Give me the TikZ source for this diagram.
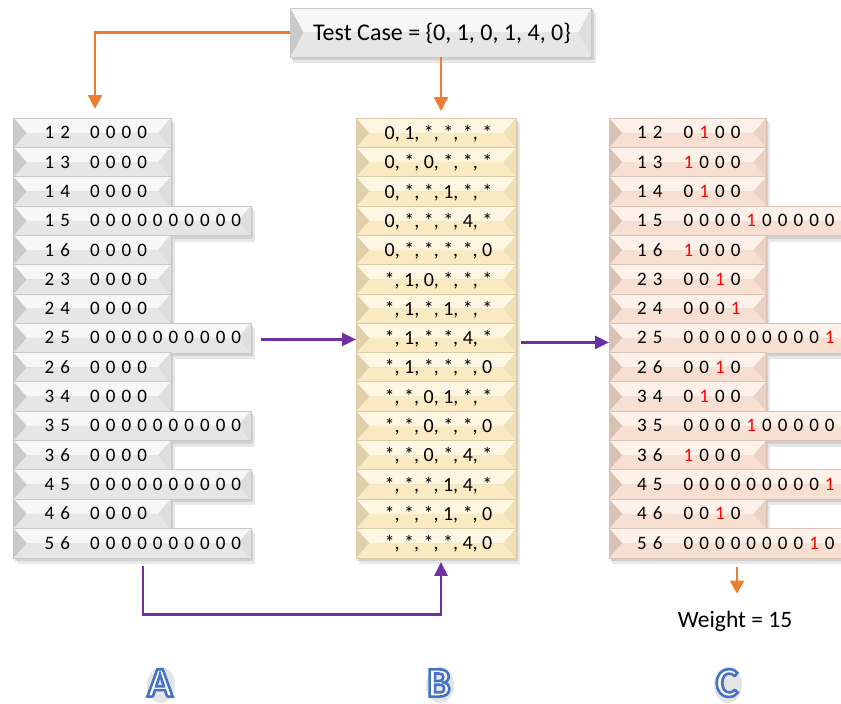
\documentclass[tikz,border=0pt]{standalone}
\usepackage{fontspec}
\setmainfont{Carlito}
\usetikzlibrary{calc,arrows.meta}

% palettes for the bevelled bars
\definecolor{grTop}{HTML}{F7F7F7}
\definecolor{grBot}{HTML}{E6E6E6}
\definecolor{grLeft}{HTML}{CACACA}
\definecolor{grRight}{HTML}{DEDEDE}
\definecolor{grEdge}{HTML}{C8C8C8}
\definecolor{crTop}{HTML}{FFF7E1}
\definecolor{crBot}{HTML}{FAEAC2}
\definecolor{crLeft}{HTML}{E0CFA8}
\definecolor{crRight}{HTML}{F0E0B8}
\definecolor{crEdge}{HTML}{DACBA6}
\definecolor{pcTop}{HTML}{FDF1EA}
\definecolor{pcBot}{HTML}{F7DFD1}
\definecolor{pcLeft}{HTML}{DAC1B2}
\definecolor{pcRight}{HTML}{EBD2C4}
\definecolor{pcEdge}{HTML}{D7C2B6}
\definecolor{shadeA}{HTML}{E8E8E8}
\definecolor{shadeB}{HTML}{D0D0D0}
\definecolor{orangeC}{HTML}{ED7D31}
\definecolor{purpleC}{HTML}{7030A0}
\definecolor{bitred}{HTML}{FF0000}
\definecolor{haloC}{HTML}{E4E4E4}

\def\bvw{13}
\def\pitch{15.7}

% outlined glyphs: fill with the current colour, stroke with the given one
\newcommand\outlined[3]{%
  \special{pdf:literal direct 2 Tr #1 w #2 RG}#3\special{pdf:literal direct 0 Tr}}

% bevelled face of a named rectangular node
\newcommand\drawbevel[2]{%
  \fill[shadeA] ($(#1.north west)+(3,5)$) rectangle ($(#1.south east)+(4,6)$);
  \fill[shadeB] ($(#1.north west)+(1.5,2.5)$) rectangle ($(#1.south east)+(2,3)$);
  \fill[#2Top] (#1.north west) -- (#1.north east) -- ($(#1.east)+(-\bvw,0)$) -- ($(#1.west)+(\bvw,0)$) -- cycle;
  \fill[#2Bot] (#1.south west) -- (#1.south east) -- ($(#1.east)+(-\bvw,0)$) -- ($(#1.west)+(\bvw,0)$) -- cycle;
  \fill[#2Left] (#1.north west) -- ($(#1.west)+(\bvw,0)$) -- (#1.south west) -- cycle;
  \fill[#2Right] (#1.north east) -- ($(#1.east)+(-\bvw,0)$) -- (#1.south east) -- cycle;
  \draw[#2Edge, line width=0.6pt] (#1.north west) rectangle (#1.south east);
}

% a row of evenly spaced digits; the letter x stands for a red 1
% #1 name prefix, #2 x of first digit centre, #3 baseline y, #4 digit list
\newcommand\digitrow[4]{%
  \foreach \d [count=\j from 0] in #4 {
    \node[digit] (#1\j) at ({#2+\pitch*\j},#3)
      {\if x\d \textcolor{bitred}{1}\else\d\fi};
  }%
}

\tikzset{
  rowbox/.style={rectangle, inner sep=0pt, minimum height=29.3pt, anchor=north west},
  digit/.style={inner sep=0pt, anchor=base, font=\fontsize{19}{21}\selectfont},
  stxt/.style={inner sep=0pt, anchor=base, font=\fontsize{20}{22}\selectfont},
  orarrow/.style={draw=orangeC, line width=2.4pt, -{Triangle[length=14pt,width=14pt]}},
  puarrow/.style={draw=purpleC, line width=2.4pt, -{Triangle[length=14pt,width=13pt]}},
  bigletter/.style={inner sep=2pt, font=\fontsize{42}{42}\selectfont\bfseries},
}

\begin{document}
\begin{tikzpicture}[x=1pt,y=-1pt]
\useasboundingbox (0,0) rectangle (841,704);
\clip (0,0) rectangle (841,704);

% column A
\foreach \lab/\bits/\bw [count=\i from 0] in {
  {1,2}/{0,0,0,0}/157, {1,3}/{0,0,0,0}/157, {1,4}/{0,0,0,0}/157,
  {1,5}/{0,0,0,0,0,0,0,0,0,0}/237,
  {1,6}/{0,0,0,0}/157, {2,3}/{0,0,0,0}/157, {2,4}/{0,0,0,0}/157,
  {2,5}/{0,0,0,0,0,0,0,0,0,0}/237,
  {2,6}/{0,0,0,0}/157, {3,4}/{0,0,0,0}/157,
  {3,5}/{0,0,0,0,0,0,0,0,0,0}/237, {3,6}/{0,0,0,0}/157,
  {4,5}/{0,0,0,0,0,0,0,0,0,0}/237, {4,6}/{0,0,0,0}/157,
  {5,6}/{0,0,0,0,0,0,0,0,0,0}/237}{
  \node[rowbox, minimum width=\bw pt] (a\i) at (13.5,{118+29.3*\i}) {};
  \drawbevel{a\i}{gr}
  \digitrow{al\i-}{49.5}{118+29.3*\i+20.8}{\lab}
  \digitrow{ab\i-}{95}{118+29.3*\i+20.8}{\bits}
}

% column B
\foreach \pat [count=\i from 0] in {
  {0, 1, *, *, *, *}, {0, *, 0, *, *, *}, {0, *, *, 1, *, *},
  {0, *, *, *, 4, *}, {0, *, *, *, *, 0}, {*, 1, 0, *, *, *},
  {*, 1, *, 1, *, *}, {*, 1, *, *, 4, *}, {*, 1, *, *, *, 0},
  {*, *, 0, 1, *, *}, {*, *, 0, *, *, 0}, {*, *, 0, *, 4, *},
  {*, *, *, 1, 4, *}, {*, *, *, 1, *, 0}, {*, *, *, *, 4, 0}}{
  \node[rowbox, minimum width=160pt] (b\i) at (356,{118+29.3*\i}) {};
  \drawbevel{b\i}{cr}
  \node[stxt] (bt\i) at (438.5,{118+29.3*\i+21.5}) {\pat};
}

% column C
\foreach \lab/\bits/\bw [count=\i from 0] in {
  {1,2}/{0,x,0,0}/157, {1,3}/{x,0,0,0}/157, {1,4}/{0,x,0,0}/157,
  {1,5}/{0,0,0,0,x,0,0,0,0,0}/250,
  {1,6}/{x,0,0,0}/157, {2,3}/{0,0,x,0}/157, {2,4}/{0,0,0,x}/157,
  {2,5}/{0,0,0,0,0,0,0,0,0,x}/250,
  {2,6}/{0,0,x,0}/157, {3,4}/{0,x,0,0}/157,
  {3,5}/{0,0,0,0,x,0,0,0,0,0}/250, {3,6}/{x,0,0,0}/157,
  {4,5}/{0,0,0,0,0,0,0,0,0,x}/250, {4,6}/{0,0,x,0}/157,
  {5,6}/{0,0,0,0,0,0,0,0,x,0}/250}{
  \node[rowbox, minimum width=\bw pt] (c\i) at (609,{118+29.3*\i}) {};
  \drawbevel{c\i}{pc}
  \digitrow{cl\i-}{642}{118+29.3*\i+20.8}{\lab}
  \digitrow{cb\i-}{688.5}{118+29.3*\i+20.8}{\bits}
}

% test case box
\node[rectangle, inner sep=0pt, minimum width=301pt, minimum height=49pt] (tc) at (441,32.5) {};
\drawbevel{tc}{gr}
\node[inner sep=0pt, font=\fontsize{24}{26}\selectfont] (tct) at (442,33) {Test Case = \{0, 1, 0, 1, 4, 0\}};

% connectors
\draw[orarrow] (tc.west) -| ($(a0.north west)+(81.5,-9)$);
\draw[orarrow] (tc.south) -- ($(tc.south |- b0.north)+(0,-7)$);
\draw[puarrow] ($(a7.east)+(10,1.5)$) -- ($(b7.west)+(0,1.5)$);
\draw[puarrow] ($(b7.east)+(5,4.5)$) -- ($(c7.west)+(0,4.5)$);
\coordinate (abot) at ($(a14.south west)+(129.5,8.5)$);
\draw[puarrow] (abot) -- ++(0,48) -| ($(tc.south |- b14.south)+(0,4)$);

% weight
\node[inner sep=0pt, font=\fontsize{23.5}{25}\selectfont] (w) at (735,621) {Weight = 15};
\draw[orarrow, line width=2pt, -{Triangle[length=13pt,width=14pt]}] ($(c14.south west)+(128,9)$) -- ($(w.north)+(2,-17)$);

% column letters: faint halo behind a white glyph with a blue outline
\foreach \L/\xx [count=\k] in {A/160, B/439, C/727}{
  \fill[haloC] (\xx+1,685) ellipse (14pt and 18pt);
  \node[bigletter, text=white] (let\k) at (\xx,683)
    {\outlined{2.6}{0.267 0.447 0.769}{\L}};
}
\end{tikzpicture}
\end{document}
